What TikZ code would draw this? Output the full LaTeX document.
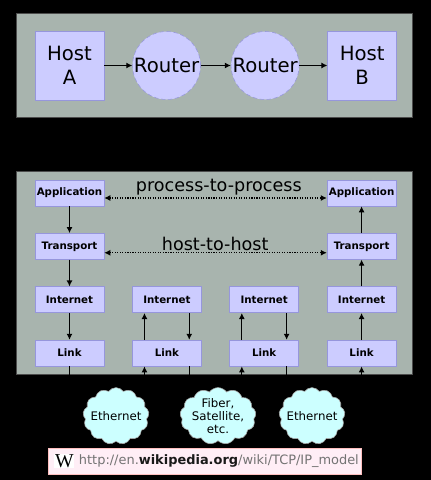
\documentclass[tikz,border=0pt]{standalone}
\usepackage{fontspec}
\setmainfont{DejaVu Sans}
\newfontfamily\logofont{Liberation Serif}
\usetikzlibrary{arrows.meta,positioning,calc,shapes.symbols}
\definecolor{panelgris}{RGB}{168,180,174}
\definecolor{lila}{RGB}{204,204,255}
\definecolor{lilaborde}{RGB}{150,150,220}
\definecolor{celeste}{RGB}{204,255,255}
\definecolor{rosa}{RGB}{255,238,246}

\begin{document}
\begin{tikzpicture}[
panel/.style={draw=black!70,fill=panelgris,minimum width=9.9cm},
host/.style={draw=lilaborde,fill=lila,minimum width=1.725cm,minimum height=1.725cm,align=center,inner sep=0pt,font=\fontsize{14}{17}\selectfont},
router/.style={draw=lilaborde,densely dashed,fill=lila,circle,minimum size=1.7cm,inner sep=0pt,font=\fontsize{14}{17}\selectfont},
layer/.style={draw=lilaborde,fill=lila,minimum width=1.725cm,minimum height=0.65cm,inner sep=0pt,font=\fontsize{7.3}{9}\selectfont\bfseries},
nube/.style={cloud,cloud puffs=13,cloud puff arc=110,aspect=1.1,draw=gray!70,fill=celeste,inner sep=-9pt,align=center,font=\fontsize{8.4}{9.2}\selectfont},
arr/.style={-{Latex[length=1.5mm,width=1.5mm]},thick},
peer/.style={{Latex[length=1.5mm,width=1.5mm]}-{Latex[length=1.5mm,width=1.5mm]},thick,densely dotted},
lbl/.style={inner sep=0pt,font=\fontsize{12.5}{15}\selectfont}
]
\fill[black] (0,0) rectangle (10.775,-12);
\useasboundingbox (0,0) rectangle (10.775,-12);

\node[panel,minimum height=2.6cm] (top) at (5.35,-1.625) {};
\node[panel,minimum height=5.075cm] (stack) at (5.35,-6.8125) {};

\node[host] (ha) at (1.7375,-1.6375) {Host\\A};
\node[router,right=7mm of ha] (r1) {Router};
\node[router,right=7.5mm of r1] (r2) {Router};
\node[host,right=7mm of r2] (hb) {Host\\B};

\node[layer] (ap1) at (1.7375,-4.825) {Application};
\node[layer,below=6.7mm of ap1] (tr1) {Transport};
\node[layer,below=6.7mm of tr1] (in1) {Internet};
\node[layer,below=6.7mm of in1] (lk1) {Link};

\node[layer,right=6.95mm of in1] (in2) {Internet};
\node[layer,below=6.7mm of in2] (lk2) {Link};
\node[layer,right=6.95mm of in2] (in3) {Internet};
\node[layer,below=6.7mm of in3] (lk3) {Link};

\node[layer,right=6.95mm of in3] (in4) {Internet};
\node[layer,below=6.7mm of in4] (lk4) {Link};
\node[layer,above=6.7mm of in4] (tr4) {Transport};
\node[layer,above=6.7mm of tr4] (ap4) {Application};

\node[lbl] (pp) at (5.47,-4.68) {process-to-process};
\node[lbl] (hh) at (5.38,-6.1) {host-to-host};

\node[nube,minimum width=1.65cm,minimum height=1.42cm] (et1) at (2.9,-10.4) {Ethernet};
\node[nube,minimum width=1.9cm,minimum height=1.42cm] (fb) at (5.45,-10.4) {Fiber,\\Satellite,\\etc.};
\node[nube,minimum width=1.65cm,minimum height=1.42cm] (et2) at (7.8,-10.4) {Ethernet};

\node[draw=pink,fill=rosa,minimum width=7.825cm,minimum height=0.65cm,inner sep=0pt] (wp) at (5.13,-11.525) {};
\node[fill=white,inner sep=0.5pt,font=\logofont\fontsize{14}{14}\selectfont] (wlogo) at ([xshift=4mm]wp.west) {W};
\node[right=1mm of wlogo,inner sep=0pt,text=black!55,font=\fontsize{9.2}{11}\selectfont] (url) {http://en.\textcolor{black!90}{\textbf{wikipedia.org}}/wiki/TCP/IP\_model};

\draw[arr](ha)--(r1);
\draw[arr](r1)--(r2);
\draw[arr](r2)--(hb);

\draw[arr](ap1)--(tr1);
\draw[arr](tr1)--(in1);
\draw[arr](in1)--(lk1);
\draw[arr](lk4)--(in4);
\draw[arr](in4)--(tr4);
\draw[arr](tr4)--(ap4);

\draw[peer]([yshift=-1.25mm]ap1.east)--([yshift=-1.25mm]ap4.west);
\draw[peer]([yshift=-1.6mm]tr1.east)--([yshift=-1.6mm]tr4.west);

\draw[arr]([xshift=-5.6mm]lk2.north)--([xshift=-5.6mm]in2.south);
\draw[arr]([xshift=5.6mm]in2.south)--([xshift=5.6mm]lk2.north);
\draw[arr]([xshift=-5.6mm]lk3.north)--([xshift=-5.6mm]in3.south);
\draw[arr]([xshift=5.6mm]in3.south)--([xshift=5.6mm]lk3.north);

% below the panel these run black on black
\draw[arr](lk1.south)|-(et1.west);
\draw[arr]([xshift=-5.6mm]lk2.south |- et1.north)--([xshift=-5.6mm]lk2.south);
\draw[arr]([xshift=5.6mm]lk2.south)--([xshift=5.6mm]lk2.south |- fb.north);
\draw[arr]([xshift=-5.6mm]lk3.south |- fb.north)--([xshift=-5.6mm]lk3.south);
\draw[arr]([xshift=5.6mm]lk3.south)--([xshift=5.6mm]lk3.south |- et2.north);
\draw[arr](et2.east)-|(lk4.south);
\end{tikzpicture}
\end{document}
